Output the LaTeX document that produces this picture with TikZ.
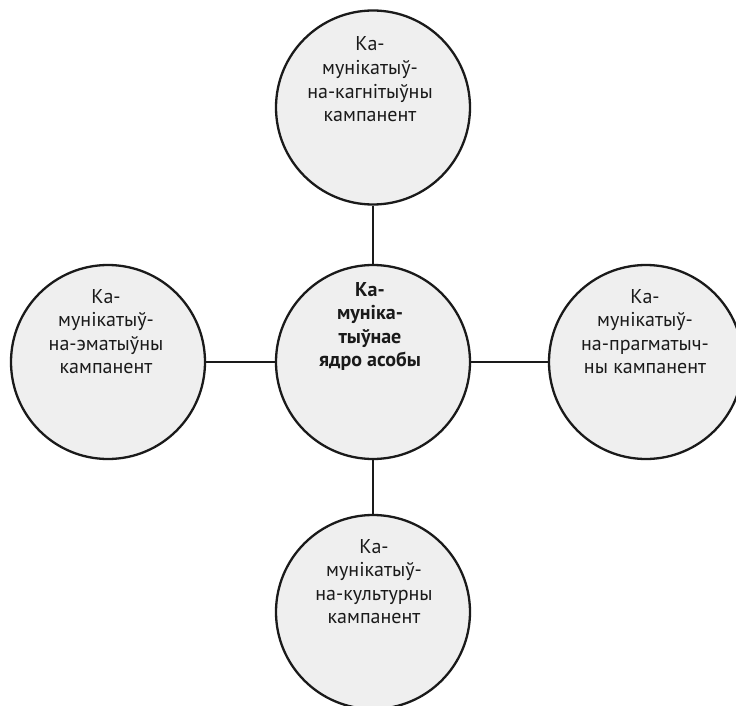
\documentclass[tikz,border=0pt]{standalone}
\usepackage{fontspec}
\setmainfont{PT Sans}
\definecolor{circfill}{HTML}{EFEFEF}
\definecolor{ink}{HTML}{1A1A1A}
\tikzset{
  comp/.style={circle, draw=ink, line width=2.3pt, fill=circfill, minimum size=194pt, inner sep=0pt},
  ctext/.style={align=center, anchor=base, font=\fontsize{20}{23.5}\selectfont, text=ink, inner sep=0pt},
  btext/.style={ctext, font=\fontsize{20}{23.5}\selectfont\bfseries},
  link/.style={draw=ink, line width=2.3pt}
}
\begin{document}
\begin{tikzpicture}[x=1pt,y=-1pt]
\useasboundingbox (0,0) rectangle (736,706);
\node[comp] (core) at (373,362) {};
\node[comp] (top) at (373,107.5) {};
\node[comp] (left) at (108,362) {};
\node[comp] (right) at (646,362) {};
\node[comp] (bottom) at (373,612) {};
\draw[link] (top) -- (core);
\draw[link] (core) -- (bottom);
\draw[link] (left) -- (core);
\draw[link] (core) -- (right);
\node[btext] (coret) at (370,366.5) {Ка-\\муніка-\\тыўнае\\ядро асобы};
\node[ctext] (topt) at (370,121.5) {Ка-\\мунікатыў-\\на-кагнітыўны\\кампанент};
\node[ctext] (leftt) at (106,373.5) {Ка-\\мунікатыў-\\на-эматыўны\\кампанент};
\node[ctext] (rightt) at (645,373.5) {Ка-\\мунікатыў-\\на-прагматыч-\\ны кампанент};
\node[ctext] (bottomt) at (374,623.5) {Ка-\\мунікатыў-\\на-культурны\\кампанент};
\end{tikzpicture}
\end{document}
